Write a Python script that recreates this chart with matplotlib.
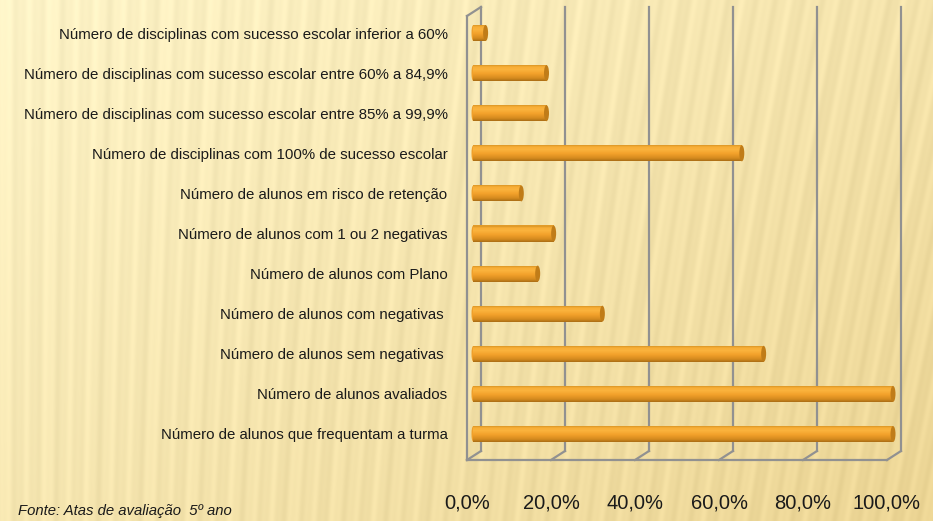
import numpy as np
import matplotlib
matplotlib.use("Agg")
import matplotlib.pyplot as plt
from matplotlib.patches import Ellipse
from matplotlib.colors import to_rgb

plt.rcParams['font.family'] = ['Liberation Sans', 'DejaVu Sans']

# Categories, listed top to bottom as shown on the chart
categories = [
    "Número de disciplinas com sucesso escolar inferior a 60%",
    "Número de disciplinas com sucesso escolar entre 60% a 84,9%",
    "Número de disciplinas com sucesso escolar entre 85% a 99,9%",
    "Número de disciplinas com 100% de sucesso escolar",
    "Número de alunos em risco de retenção",
    "Número de alunos com 1 ou 2 negativas",
    "Número de alunos com Plano",
    "Número de alunos com negativas ",
    "Número de alunos sem negativas ",
    "Número de alunos avaliados",
    "Número de alunos que frequentam a turma",
]
values = [3.0, 17.5, 17.5, 64.0, 11.5, 19.2, 15.4, 30.8, 69.2, 100.0, 100.0]
tick_values = [0, 20, 40, 60, 80, 100]
tick_labels = ["0,0%", "20,0%", "40,0%", "60,0%", "80,0%", "100,0%"]
source_note = "Fonte: Atas de avaliação  5º ano"

W, H = 933, 521
fig = plt.figure(figsize=(W / 100, H / 100), dpi=100)

# ---- textured background: warm gradient with soft slanted stripes ----
yy, xx = np.mgrid[0:H, 0:W].astype(float)
t = 0.55 * (xx / W) + 0.45 * (yy / H)
light = np.array([254, 244, 200]) / 255.0
dark = np.array([236, 213, 148]) / 255.0
base = light[None, None, :] * (1 - t[..., None]) + dark[None, None, :] * t[..., None]
phase = xx + 0.22 * yy * (xx / W)
stripes = (0.55 * np.sin(2 * np.pi * phase / 23.0)
           + 0.30 * np.sin(2 * np.pi * phase / 9.5 + 1.3)
           + 0.15 * np.sin(2 * np.pi * phase / 41.0 + 0.4))
bg = np.clip(base + 0.03 * stripes[..., None], 0, 1)
bgax = fig.add_axes([0, 0, 1, 1], zorder=-5)
bgax.imshow(bg, aspect='auto', interpolation='bilinear')
bgax.axis('off')

# ---- main axes (front plane of the 3D box) ----
x0_px, x1_px = 467, 887
floor_px, top_px = 61, 514
ax = fig.add_axes([x0_px / W, floor_px / H, (x1_px - x0_px) / W, (top_px - floor_px) / H])
ax.patch.set_alpha(0)
ax.set_xlim(0, 100)
px_per_cat = 40.1
first_center_px = 87
ax.set_ylim((floor_px - first_center_px) / px_per_cat, (top_px - first_center_px) / px_per_cat)

px_x = 100 / (x1_px - x0_px)          # data units per pixel (x)
px_y = 1 / px_per_cat                 # data units per pixel (y)
dx, dy = 14 * px_x, 9 * px_y          # depth offset of back wall
y_floor = ax.get_ylim()[0]
y_top = ax.get_ylim()[1]

grid_c = '#919191'
lw = 1.6
# back wall gridlines + floor diagonals
for v in tick_values:
    ax.plot([v + dx, v + dx], [y_floor + dy, y_top], color=grid_c, lw=lw, clip_on=False, zorder=1)
    ax.plot([v, v + dx], [y_floor, y_floor + dy], color=grid_c, lw=lw, clip_on=False, zorder=1)
# front floor edge
ax.plot([0, 100], [y_floor, y_floor], color=grid_c, lw=lw, clip_on=False, zorder=1)
# left side wall
ax.plot([0, 0], [y_floor, y_top - dy], color=grid_c, lw=lw, clip_on=False, zorder=1)
ax.plot([0, dx], [y_top - dy, y_top], color=grid_c, lw=lw, clip_on=False, zorder=1)

# ---- cylinder-style bars: vertical colour gradient built from thin slices ----
ypos = np.arange(len(categories))[::-1]
bar_left = 6 * px_x
h = 16 * px_y
stops = [(0.00, '#A86C14'), (0.18, '#D48A1E'), (0.45, '#F1A02A'),
         (0.72, '#FAB23C'), (0.88, '#F8AE36'), (1.00, '#D99424')]
sp = np.array([s for s, _ in stops])
sc = np.array([to_rgb(c) for _, c in stops])
n_slices = 16
for k in range(n_slices):
    f = (k + 0.5) / n_slices
    col = [np.interp(f, sp, sc[:, j]) for j in range(3)]
    bars = ax.barh(ypos - h / 2 + f * h, values, height=h / n_slices * 1.15, left=bar_left,
                   color=col, edgecolor='none', zorder=3)
    for b in bars:
        b.set_clip_on(False)
cap_w = 5 * px_x
for y, v in zip(ypos, values):
    xe = bar_left + v
    ax.add_patch(Ellipse((xe, y), cap_w, h, facecolor='#C07C18', edgecolor='none',
                         zorder=4, clip_on=False))
    ax.add_patch(Ellipse((bar_left, y), cap_w * 0.6, h * 0.95, facecolor='#F0A02A',
                         edgecolor='none', zorder=2, clip_on=False))

# ---- labels ----
ax.set_yticks(ypos)
ax.set_yticklabels(categories, fontsize=10.8, color='#1A1A1A')
ax.set_xticks(tick_values)
ax.set_xticklabels(tick_labels, fontsize=14.5, color='#1A1A1A')
ax.tick_params(axis='y', length=0, pad=14)
ax.tick_params(axis='x', length=0, pad=24)
for s in ax.spines.values():
    s.set_visible(False)

fig.text(18 / W, 1 - 511 / H, source_note, fontsize=10.7, style='italic',
         color='#1A1A1A', ha='left', va='center')

fig.savefig('out.png', dpi=100)
